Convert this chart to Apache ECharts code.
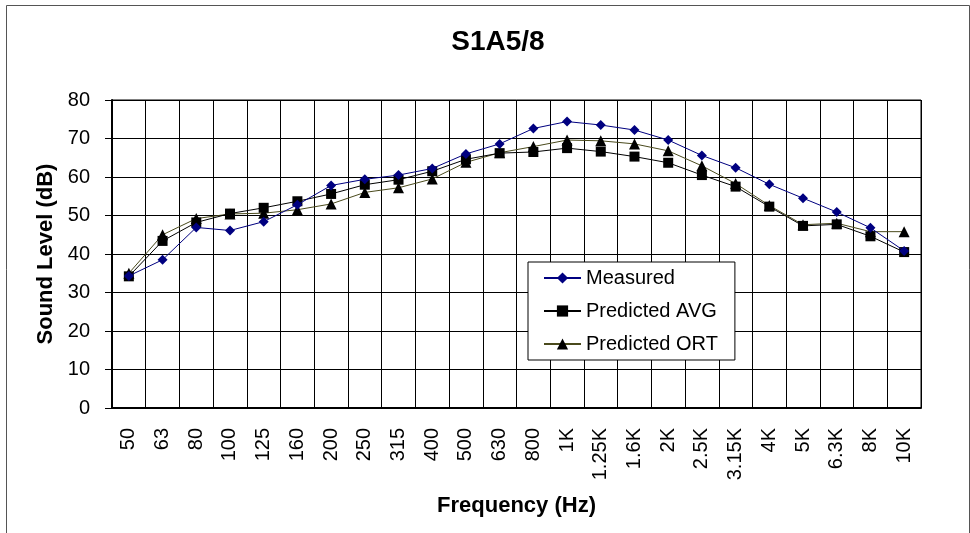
<!DOCTYPE html>
<html>
<head>
<meta charset="utf-8">
<title>S1A5/8</title>
<script src="https://cdn.jsdelivr.net/npm/echarts@6/dist/echarts.min.js"></script>
<style>
  html, body { margin: 0; padding: 0; background: #fff; }
  #chart { width: 970px; height: 533px; }
</style>
</head>
<body>
<div id="chart"></div>
<script>
// One-third-octave band centre frequencies
const frequencies = ['50', '63', '80', '100', '125', '160', '200', '250', '315', '400',
  '500', '630', '800', '1K', '1.25K', '1.6K', '2K', '2.5K', '3.15K', '4K',
  '5K', '6.3K', '8K', '10K'];

// Sound levels (dB) per band
const measured = [34.3, 38.5, 46.9, 46.1, 48.4, 52.8, 57.8, 59.4, 60.5, 62.2,
  66.0, 68.6, 72.6, 74.4, 73.5, 72.2, 69.6, 65.6, 62.4, 58.1,
  54.5, 50.9, 46.8, 40.8];
const predictedAvg = [34.2, 43.4, 48.2, 50.5, 52.0, 53.7, 55.6, 58.0, 59.3, 61.5,
  64.6, 66.2, 66.5, 67.5, 66.6, 65.3, 63.7, 60.5, 57.5, 52.3,
  47.3, 47.7, 44.6, 40.5];
const predictedOrt = [35.0, 45.0, 49.2, 50.4, 50.6, 51.5, 53.0, 56.0, 57.2, 59.5,
  63.8, 66.3, 67.9, 69.6, 69.4, 68.6, 66.8, 62.9, 58.3, 52.6,
  47.6, 48.0, 45.8, 45.8];

const yTicks = { min: 0, max: 80, step: 10 };

const FONT = 'Liberation Sans, Arial, Helvetica, sans-serif';

const chart = echarts.init(document.getElementById('chart'), null, { renderer: 'canvas' });

chart.setOption({
  backgroundColor: '#fff',
  animation: false,
  title: {
    text: 'S1A5/8',
    left: 493,
    textAlign: 'center',
    top: 23,
    textStyle: { fontFamily: FONT, fontSize: 28, fontWeight: 'bold', color: '#000' }
  },
  graphic: [{
    type: 'rect',
    left: 4, top: 3,
    shape: { width: 963, height: 540 },
    style: { fill: 'none', stroke: '#555', lineWidth: 1 },
    silent: true,
    z: -1
  }],
  grid: { left: 112, top: 100, width: 809, height: 308, show: true, borderColor: '#000', borderWidth: 1 },
  legend: {
    orient: 'vertical',
    left: 528,
    top: 262,
    padding: [5, 17, 5, 15],
    itemGap: 11,
    itemWidth: 37,
    itemHeight: 14,
    backgroundColor: '#fff',
    borderColor: '#000',
    borderWidth: 1,
    textStyle: { fontFamily: FONT, fontSize: 20, lineHeight: 22, color: '#000' },
    data: ['Measured', 'Predicted AVG', 'Predicted ORT']
  },
  xAxis: {
    type: 'category',
    data: frequencies,
    boundaryGap: true,
    name: 'Frequency (Hz)',
    nameLocation: 'middle',
    nameGap: 87,
    nameTextStyle: { fontFamily: FONT, fontSize: 22, fontWeight: 'bold', color: '#000' },
    axisLine: { lineStyle: { color: '#000', width: 2 } },
    axisTick: { show: false },
    axisLabel: {
      interval: 0,
      rotate: 90,
      margin: 20,
      fontFamily: FONT,
      fontSize: 20,
      color: '#000'
    },
    splitLine: { show: true, interval: 0, lineStyle: { color: '#000', width: 1 } }
  },
  yAxis: {
    type: 'value',
    min: yTicks.min,
    max: yTicks.max,
    interval: yTicks.step,
    name: 'Sound Level (dB)',
    nameLocation: 'middle',
    nameGap: 55,
    nameTextStyle: { fontFamily: FONT, fontSize: 22, fontWeight: 'bold', color: '#000' },
    axisLine: { show: true, lineStyle: { color: '#000', width: 2 } },
    axisTick: { show: true, length: 7, lineStyle: { color: '#000', width: 1 } },
    axisLabel: { margin: 22, fontFamily: FONT, fontSize: 20, color: '#000' },
    splitLine: { show: true, lineStyle: { color: '#000', width: 1 } }
  },
  series: [
    {
      name: 'Measured',
      type: 'line',
      data: measured,
      symbol: 'diamond',
      symbolSize: 10,
      lineStyle: { color: '#000080', width: 1 },
      itemStyle: { color: '#000080' },
      z: 4
    },
    {
      name: 'Predicted AVG',
      type: 'line',
      data: predictedAvg,
      symbol: 'rect',
      symbolSize: 10,
      lineStyle: { color: '#000', width: 1 },
      itemStyle: { color: '#000' },
      z: 3
    },
    {
      name: 'Predicted ORT',
      type: 'line',
      data: predictedOrt,
      symbol: 'triangle',
      symbolSize: 11,
      lineStyle: { color: '#4a4a1c', width: 1 },
      itemStyle: { color: '#000' },
      z: 2
    }
  ]
});
</script>
</body>
</html>
